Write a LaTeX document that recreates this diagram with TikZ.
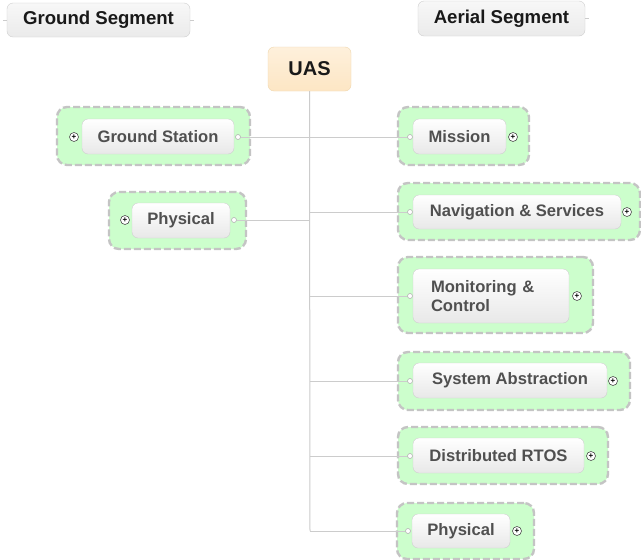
\documentclass[tikz,border=0pt]{standalone}
\usepackage{fontspec}
\setmainfont{Liberation Sans}
\definecolor{grpfill}{HTML}{CCFECC}
\definecolor{grpdash}{HTML}{C4C4C4}
\definecolor{boxline}{HTML}{CFCFCF}
\definecolor{txtgray}{HTML}{505050}
\definecolor{linkgray}{HTML}{CCCCCC}
\definecolor{uasfill}{HTML}{FDE6C4}
\definecolor{uasline}{HTML}{EFD7AE}
\begin{document}
\begin{tikzpicture}[x=1pt,y=-1pt,
  grp/.style={draw=grpdash,fill=grpfill,line width=2.4pt,dash pattern=on 7pt off 3pt,rounded corners=10pt,inner sep=0pt},
  topic/.style={draw=boxline,top color=white,bottom color=black!9,rounded corners=6pt,inner sep=0pt,
    font=\fontsize{16.6}{18}\selectfont\bfseries,text=txtgray},
  header/.style={draw=boxline,top color=black!3,bottom color=black!8,rounded corners=6pt,inner sep=0pt,
    font=\fontsize{18.6}{20}\selectfont\bfseries,text=black!90},
  rootbox/.style={draw=uasline,top color=uasfill!60,bottom color=uasfill,rounded corners=6pt,inner sep=0pt,
    font=\fontsize{20}{22}\selectfont\bfseries,text=black!90},
  dotc/.style={circle,draw=black!30,fill=white,inner sep=0pt,minimum size=5pt,line width=0.6pt},
  plusc/.style={circle,draw=black!70,fill=white,inner sep=0pt,minimum size=9pt,line width=0.6pt,
    font=\fontsize{8}{8}\selectfont\bfseries},
  link/.style={draw=linkgray,line width=1pt}]
\useasboundingbox (0,0) rectangle (641,560);
\fill[white] (0,0) rectangle (641,560);

% headers
\node[header,minimum width=183pt,minimum height=34pt] (gshead) at (98.5,20) {Ground Segment};
\node[header,minimum width=167pt,minimum height=35pt] (ashead) at (501.5,18.5) {Aerial Segment};
\coordinate (gsstubL) at (3,20);
\coordinate (gsstubR) at (194,20);
\coordinate (asstubR) at (589,18.5);
\draw[link,line width=0.6pt] (gshead.west) -- (gsstubL);
\draw[link,line width=0.6pt] (gshead.east) -- (gsstubR);
\draw[link,line width=0.6pt] (ashead.east) -- (asstubR);

% root
\node[rootbox,minimum width=83pt,minimum height=44pt] (uas) at (309.5,69) {UAS};

% group backgrounds
\node[grp,minimum width=193pt,minimum height=58pt] (gsg) at (153.5,136) {};
\node[grp,minimum width=137pt,minimum height=57pt] (plg) at (177.5,220.5) {};
\node[grp,minimum width=131pt,minimum height=58pt] (msg) at (463.5,136) {};
\node[grp,minimum width=242pt,minimum height=57pt] (nvg) at (519,211.5) {};
\node[grp,minimum width=195pt,minimum height=76pt] (mcg) at (495.5,295) {};
\node[grp,minimum width=232pt,minimum height=58pt] (sag) at (514,381) {};
\node[grp,minimum width=210pt,minimum height=57pt] (rtg) at (503,455.5) {};
\node[grp,minimum width=137pt,minimum height=56pt] (prg) at (465.5,531) {};

% connectors
\coordinate (j1) at (310,212);
\coordinate (j2) at (310,296);
\coordinate (j3) at (310,381);
\coordinate (j4) at (310,456);
\coordinate (j5) at (310,531);
\coordinate (jl) at (310,220);

\node[dotc] (gsd) at (238,137) {};
\node[dotc] (pld) at (234,220) {};
\node[dotc] (msd) at (410,137) {};
\node[dotc] (nvd) at (410,212) {};
\node[dotc] (mcd) at (410,296) {};
\node[dotc] (sad) at (410,381) {};
\node[dotc] (rtd) at (410,456) {};
\node[dotc] (prd) at (408,531) {};

\draw[link] (uas.south) -- (j5);
\draw[link] (gsd) -- (msd);
\draw[link] (pld) -- (jl);
\draw[link] (j1) -- (nvd);
\draw[link] (j2) -- (mcd);
\draw[link] (j3) -- (sad);
\draw[link] (j4) -- (rtd);
\draw[link] (j5) -- (prd);

% topics
\node[topic,minimum width=152pt,minimum height=35pt] (gs) at (158,136.5) {Ground Station};
\node[topic,minimum width=98pt,minimum height=35pt] (pl) at (181,220.5) {Physical};
\node[topic,minimum width=93pt,minimum height=35pt] (ms) at (459.5,136.5) {Mission};
\node[topic,minimum width=208pt,minimum height=34pt] (nv) at (517,212) {Navigation \& Services};
\node[topic,minimum width=156pt,minimum height=54pt,text width=120pt,inner xsep=18pt,align=left,
  font=\fontsize{16.6}{18.5}\selectfont\bfseries] (mc) at (491,296) {Monitoring \&\\Control};
\node[topic,minimum width=194pt,minimum height=35pt] (sa) at (510,380.5) {System Abstraction};
\node[topic,minimum width=171pt,minimum height=35pt] (rt) at (498.5,455.5) {Distributed RTOS};
\node[topic,minimum width=98pt,minimum height=34pt] (pr) at (461,531) {Physical};

% expanders
\node[plusc] (gsp) at (74,137) {+};
\node[plusc] (plp) at (125,220) {+};
\node[plusc] (msp) at (513,137) {+};
\node[plusc] (nvp) at (627,212) {+};
\node[plusc] (mcp) at (577,296) {+};
\node[plusc] (sap) at (613,381) {+};
\node[plusc] (rtp) at (591,456) {+};
\node[plusc] (prp) at (517,531) {+};
\end{tikzpicture}
\end{document}
